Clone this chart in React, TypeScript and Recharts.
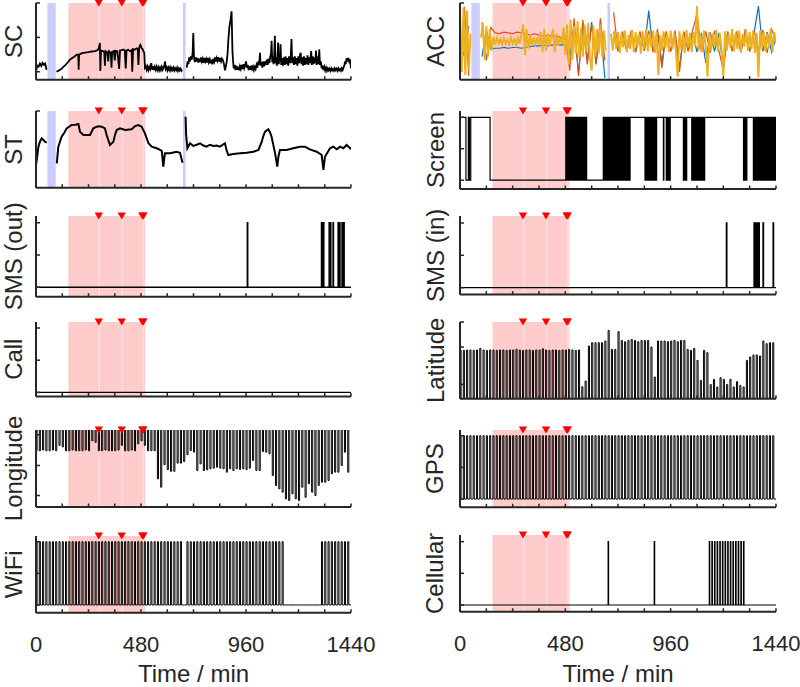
import React from 'react';
import { LineChart, Line, XAxis, YAxis, ReferenceArea, ReferenceLine, ReferenceDot } from 'recharts';

const FONT = '"Liberation Sans", Arial, Helvetica, sans-serif';
const INK = '#262626';

// ---------- shared time axis / annotations ----------
const xTicks = [0, 120, 240, 360, 480, 600, 720, 840, 960, 1080, 1200, 1320, 1440];
const xTickLabels = [0, 480, 960, 1440];
const sampleStep = 15; // minutes between phone samples
const pulseWidth = 5;
const stressPeriod = [148, 499];
const eventLines = [290, 395, 492];
const eventMarkers = [287, 392, 486, 491];
const wristOff = [[52, 90], [672, 684]];

// ---------- SC (skin conductance) ----------
const scTime = [0, 6, 12, 18, 24, 30, 36, 42, 48, 50, 94, 105, 115, 125, 135, 145, 155, 165, 175, 186, 193, 195, 197, 210, 225, 240, 255, 270, 282, 288, 292, 294, 297, 305, 312, 315, 318, 326, 330, 334, 342, 345, 348, 356, 360, 364, 372, 380, 384, 392, 399, 406, 410, 414, 422, 430, 437, 440, 444, 452, 460, 465, 468, 472, 477, 482, 487, 491, 495,
  498, 502, 506, 510, 514, 518, 522, 527, 531, 535, 539, 543, 547, 551, 555, 559, 563, 567, 571, 575, 579, 583, 587, 590, 593, 597, 601, 605, 609, 613, 617, 621, 625, 629, 633, 637, 641, 645, 649, 653, 657, 661, 665, 668, 672,
  689, 693, 697, 700, 704, 708, 712, 716, 719, 722, 726, 730, 734, 738, 742, 746, 750, 754, 758, 762, 766, 770, 774, 778, 782, 786, 790, 794, 798, 802, 806, 810, 814, 818, 822, 826, 830, 834, 838, 842, 846, 850, 855, 860, 864, 868, 872, 876, 879, 884, 889, 892, 894, 896, 898, 901, 904, 908, 912, 916, 920, 924, 928, 932, 936, 940, 944, 948, 952, 956, 960, 964, 968, 972, 976, 980, 984, 988, 992, 996, 1000, 1004, 1008, 1012, 1016, 1020, 1024, 1027, 1031, 1035, 1039, 1043, 1047, 1051, 1055, 1059, 1063, 1067, 1071, 1074, 1077, 1080, 1083, 1086, 1089, 1092, 1095, 1098, 1101, 1104, 1107, 1110, 1113, 1116, 1118, 1121, 1125, 1129, 1133, 1137, 1141, 1145, 1149, 1153, 1157, 1161, 1165, 1168, 1171, 1175, 1179, 1183, 1187, 1191, 1195, 1199, 1203, 1207, 1210, 1213, 1217, 1221, 1225, 1229, 1233, 1237, 1241, 1245, 1249, 1253, 1258, 1261, 1265, 1269, 1273, 1277, 1280, 1283, 1287, 1291, 1295, 1298, 1302, 1306, 1310, 1314, 1318, 1322, 1326, 1330, 1334, 1338, 1342, 1346, 1350, 1354, 1358, 1362, 1366, 1370, 1374, 1378, 1382, 1386, 1390, 1394, 1398, 1402, 1406, 1410, 1413, 1416, 1420, 1424, 1428, 1432, 1436, 1440];
const scValue: (number | null)[] = [0.01, 0.18, 0.15, 0.24, 0.17, 0.26, 0.2, 0.24, 0.06, null, 0.0, 0.04, 0.08, 0.14, 0.2, 0.27, 0.35, 0.4, 0.44, 0.5, 0.5, 0.06, 0.5, 0.54, 0.56, 0.57, 0.59, 0.6, 0.63, 0.7, 0.84, 0.02, 0.62, 0.6, 0.58, 0.18, 0.6, 0.57, 0.3, 0.6, 0.55, 0.12, 0.58, 0.6, 0.33, 0.61, 0.6, 0.08, 0.62, 0.63, 0.65, 0.62, 0.1, 0.62, 0.64, 0.6, 0.63, 0.0, 0.66, 0.64, 0.68, 0.66, 0.2, 0.72, 0.78, 0.7, 0.66, 0.6, 0.55,
  0.12, 0.16, 0.06, 0.15, 0.05, 0.14, 0.08, 0.25, 0.06, 0.16, 0.05, 0.14, 0.06, 0.15, 0.05, 0.13, 0.04, 0.12, 0.05, 0.14, 0.06, 0.12, 0.2, 0.3, 0.08, 0.13, 0.04, 0.12, 0.05, 0.13, 0.04, 0.11, 0.05, 0.12, 0.04, 0.1, 0.05, 0.12, 0.03, 0.1, 0.04, 0.09, 0.03, 0.06, null,
  0.12, 0.3, 0.22, 0.42, 0.3, 0.45, 0.35, 0.55, 1.13, 0.45, 0.28, 0.42, 0.3, 0.4, 0.27, 0.38, 0.28, 0.42, 0.3, 0.38, 0.26, 0.4, 0.3, 0.37, 0.27, 0.4, 0.28, 0.36, 0.25, 0.35, 0.22, 0.33, 0.28, 0.42, 0.3, 0.4, 0.32, 0.42, 0.3, 0.4, 0.3, 0.38, 0.33, 0.2, 0.04, 0.15, 0.3, 0.55, 0.9, 1.3, 1.5, 1.65, 1.76, 1.2, 0.6, 0.3, 0.1, 0.2, 0.05, 0.18, 0.06, 0.15, 0.04, 0.16, 0.08, 0.2, 0.08, 0.22, 0.1, 0.18, 0.3, 0.12, 0.2, 0.05, 0.16, 0.06, 0.18, 0.08, 0.15, 0.05, 0.14, 0.08, 0.2, 0.12, 0.3, 0.2, 0.55, 0.18, 0.28, 0.12, 0.3, 0.16, 0.3, 0.2, 0.35, 0.2, 0.38, 0.25, 0.45, 0.5, 0.9, 0.28, 0.45, 0.22, 0.5, 1.05, 0.25, 0.42, 0.18, 0.4, 0.85, 0.22, 0.45, 0.3, 0.8, 0.2, 0.4, 0.18, 0.42, 0.2, 0.45, 0.22, 0.4, 0.18, 0.45, 0.25, 0.5, 0.95, 0.25, 0.42, 0.2, 0.45, 0.22, 0.4, 0.18, 0.45, 0.25, 0.5, 0.55, 0.22, 0.42, 0.18, 0.45, 0.2, 0.4, 0.22, 0.48, 0.2, 0.42, 0.25, 0.6, 0.2, 0.45, 0.22, 0.42, 0.25, 0.62, 0.2, 0.45, 0.22, 0.65, 0.2, 0.3, 0.1, 0.18, 0.05, 0.14, 0.04, 0.12, 0.03, 0.1, 0.04, 0.09, 0.03, 0.1, 0.04, 0.08, 0.03, 0.1, 0.05, 0.09, 0.03, 0.1, 0.04, 0.08, 0.03, 0.1, 0.05, 0.12, 0.2, 0.3, 0.22, 0.4, 0.3, 0.4, 0.3, 0.36, 0.1];

// ---------- ST (skin temperature, relative units) ----------
const stTime = [0, 5, 11, 18, 26, 34, 40, 49, 50, 95, 102, 117, 130, 140, 163, 180, 194, 201, 215, 224, 247, 262, 277, 290, 300, 315, 323, 338, 354, 361, 369, 384, 407, 437, 453, 468, 483, 498, 514, 529, 552, 567, 575, 582, 587, 590, 613, 643, 658, 670, 672, 684, 686, 692, 704, 719, 735, 750, 765, 780, 795, 811, 826, 841, 864, 870, 879, 902, 933, 963, 994, 1017, 1032, 1040, 1047, 1062, 1070, 1077, 1093, 1103, 1108, 1115, 1146, 1176, 1207, 1230, 1252, 1283, 1306, 1314, 1321, 1344, 1359, 1375, 1390, 1405, 1420, 1436, 1440];
const stValue: (number | null)[] = [29.6, 40, 53.5, 60, 64.4, 62.2, 60, 58.7, null, 31.8, 53.5, 66.5, 72, 77.4, 81.7, 82, 83, 73, 69, 68.7, 68.7, 77.4, 79.5, 80, 79.5, 77.4, 68.7, 55.7, 60, 68.7, 75.2, 77.4, 75.2, 76.1, 80.4, 81.7, 79.5, 70.9, 57.9, 53.5, 51.4, 49.2, 48, 27.4, 40, 44.8, 44.8, 46.9, 45.6, 32.6, null, 92.6, 70, 51.4, 57.9, 54.4, 56, 57.9, 55, 53.5, 56, 54.4, 55, 53.5, 57.9, 50, 42.6, 43.9, 44.8, 45.6, 46.9, 49.2, 60, 68, 73, 76.1, 72, 66.5, 44.8, 27.4, 40, 49.2, 49.2, 51.4, 53.5, 53.5, 50, 46.9, 42.6, 23.1, 40.4, 51.4, 53.5, 50, 53.5, 51.4, 55.7, 51.4, 50];

// ---------- ACC (three axes, relative units) ----------
const accStepY = 8;
const accY: (number | null)[] = [88, 10, 94, 6, 90, 12, 60, null, null, null, null, null, 55, 74, 26, 70, 30, 66, 38, 56, 46, 54, 47, 53, 46, 54, 47, 52, 46, 55, 47, 53, 45, 54, 47, 60, 72, 32, 66, 40, 58, 44, 55, 47, 54, 45, 62, 36, 66, 38, 60, 44, 56, 66, 36, 60, 45, 55, 47, 68, 32, 72, 20, 78, 26, 70, 34, 76, 28, 68, 30, 72, 36, 74, 28, 12, 70, 30, 66, 34, 72, 30, 64, 38, null, null,
  60, 38, 64, 40, 62, 35, 60, 42, 64, 36, 58, 40, 65, 36, 62, 44, 60, 34, 63, 40, 66, 37, 60, 42, 64, 35, 62, 6, 58, 38, 63, 41, 60, 36, 64, 40, 61, 37, 4, 63, 39, 60, 35, 65, 42, 61, 36, 62, 44, 96, 38, 60, 36, 64, 41, 4, 62, 38, 60, 43, 65, 36, 61, 40, 5, 63, 38, 60, 42, 66, 37, 61, 40, 64, 36, 59, 43, 65, 38, 62, 40, 64, 35, 61, 3, 64, 40, 62, 37, 60, 42, 67, 36, 62, 48];
const accStepXZ = 20;
const accX: (number | null)[] = [50, 30, 70, null, null, 30, 65, 40, 41, 41, 42, 41, 42, 42, 41, 42, 43, 44, 44, 45, 44, 45, 46, 45, 46, 30, 70, 8, 68, 25, 75, 20, 70, 2, null, 62, 37, 61, 38, 62, 36, 61, 38, 90, 37, 62, 22, 61, 37, 62, 15, 61, 38, 62, 36, 61, 22, 62, 37, 61, 15, 62, 38, 61, 36, 62, 37, 61, 96, 37, 62, 36, 55];
const accZ: (number | null)[] = [10, 95, 5, null, null, 75, 25, 68, 61, 60, 62, 61, 60, 62, 61, 60, 58, 60, 58, 57, 58, 56, 57, 55, 56, 12, 80, 5, 78, 20, 72, 22, 80, 25, null, 88, 38, 63, 37, 64, 36, 63, 38, 64, 36, 66, 15, 63, 37, 64, 10, 63, 37, 64, 86, 36, 63, 35, 64, 38, 12, 63, 37, 63, 36, 66, 37, 64, 38, 65, 35, 66, 50];

// ---------- phone logs ----------
const screenStart = 1;
const screenToggles = [27, 38, 43, 49, 137,
  482, 484, 488, 490, 494, 496, 499, 502, 505, 508, 511, 514, 517, 522, 525, 528, 531, 534, 537, 540, 543, 546, 549, 553, 556, 559, 562, 565, 568, 571, 574, 577,
  653, 656, 659, 662, 665, 668, 671, 676, 679, 682, 685, 688, 691, 694, 697, 700, 703, 706, 709, 712, 715, 718, 721, 726, 729, 732, 735, 738, 741, 744, 747, 750, 753, 756, 759, 762, 765, 768, 771, 773, 775,
  843, 846, 849, 852, 855, 858, 861, 864, 868, 872, 875, 878, 881, 884, 887, 890, 893, 896,
  927, 929,
  940, 943, 946, 949, 952, 955, 957, 958,
  1018, 1021, 1024, 1027, 1030, 1033,
  1056, 1059, 1062, 1065, 1068, 1071, 1074, 1079, 1082, 1085, 1088, 1091, 1094, 1097, 1100, 1103, 1106, 1109, 1112, 1115,
  1292, 1295, 1298, 1301, 1304, 1307,
  1337, 1340, 1343, 1346, 1349, 1352, 1355, 1358, 1361, 1364, 1367, 1370, 1373, 1376, 1379, 1382, 1385, 1388, 1391, 1394, 1397, 1400, 1403, 1406, 1409, 1412, 1415, 1418, 1421, 1424, 1427, 1430, 1433, 1436, 1438, 1439];
const smsOut = [[966, 968], [1305, 1308], [1310, 1316], [1340, 1342], [1346, 1348], [1358, 1360], [1381, 1384], [1386, 1390], [1399, 1401], [1406, 1409]];
const smsIn = [[1214, 1216], [1340, 1343], [1345, 1348], [1350, 1353], [1355, 1358], [1360, 1364], [1381, 1383], [1427, 1429]];
const calls: number[][] = [];
const cellular = [[675, 677], [885, 887], [1136, 1138], [1148, 1150], [1160, 1162], [1172, 1174], [1184, 1186], [1196, 1198], [1208, 1210], [1220, 1222], [1232, 1234], [1244, 1246], [1256, 1258], [1268, 1270], [1280, 1282], [1292, 1294]];

const longitude: (number | null)[] = [73, 73, 74, 73, 73, 74, 73, 80, 78, 73, 73, 74, 73, 73, 73, 74, 73, 86, 84, 73, 73, 74, 73, 73, 73, 74, 80, 73, 73, 74, 73, 82, 86, 80, 73, 73, 73, 36.6, 25.7, 55, 48.5, 46.3, 46.3, 57, 57, 59, 68, 73.4, 71.2, 47.4, 56, 47.4, 48.3, 49.6, 50.4, 51.7, 50.4, 49.6, 45.2, 49.6, 47.4, 49.6, 48.7, 49.6, 48.7, 50.4, 60.4, 47.4, 47.4, 72, 71.2, 69.1, 40.9, 27.9, 23.6, 19.2, 10.6, 8.4, 17.1, 10.6, 8.4, 25.7, 12.7, 30.1, 19.2, 14.9, 27.9, 32.2, 32.2, 34.4, 43.1, 45.2, 45.2, 53.9, 71.2, 45.2];
const lonNoFix = 160;
const latitude: (number | null)[] = [63.5, 63, 63.5, 63.5, 63, 63.5, 65.6, 63.5, 63, 63.5, 63.5, 63, 63.5, 63.5, 63, 63.5, 63.5, 64.3, 63.5, 63, 63.5, 63.5, 63, 63.5, 63.5, 65, 63.5, 63, 63.5, 63.5, 63, 63.5, 63.5, 64.3, 63.5, 63, 63.5, 15.6, 23, 68.7, 73, 73, 73, 73, 75.2, 89, 64.3, 64.3, 87.4, 76, 74.3, 76, 77.3, 76, 74.3, 76, 76, 76, 67.4, 28.3, 75.2, 75.2, 75.2, 74.3, 75.2, 76, 74.3, 76, 76, 64.3, 63, 65.6, 49.9, 23.9, 63, 60, 18.6, 25.2, 15.3, 27.4, 25.2, 18.6, 25.2, 15.3, 22.2, 17.3, 15.3, 49.9, 54.4, 57, 57, 55.7, 75.2, 71.7, 73, 73];
const latNoFix = -60;
const wifi = [1, 1, 1, 1, 1, 1, 1, 1, 1, 1, 1, 1, 1, 1, 1, 1, 1, 1, 1, 1, 1, 1, 1, 1, 1, 1, 1, 1, 1, 1, 1, 1, 1, 1, 1, 1, 1, 1, 1, 1, 1, 1, 1, 1, 1, 0, 1, 1, 1, 1, 1, 1, 1, 1, 1, 1, 1, 1, 1, 1, 1, 1, 1, 1, 1, 1, 1, 1, 1, 1, 1, 1, 1, 1, 1, 1, 0, 0, 0, 0, 0, 0, 0, 0, 0, 0, 0, 1, 1, 1, 1, 1, 1, 1, 1, 1];
const gps = [1, 1, 1, 1, 1, 1, 1, 1, 1, 1, 1, 1, 1, 1, 1, 1, 1, 1, 1, 1, 1, 1, 1, 1, 1, 1, 1, 1, 1, 1, 1, 1, 1, 1, 1, 1, 1, 1, 1, 1, 1, 1, 1, 1, 1, 1, 1, 1, 1, 1, 1, 1, 1, 1, 1, 1, 1, 1, 1, 1, 1, 1, 1, 1, 1, 1, 1, 1, 1, 1, 1, 1, 1, 1, 1, 1, 1, 1, 1, 1, 1, 1, 1, 1, 1, 1, 1, 1, 1, 1, 1, 1, 1, 1, 1, 1];

// ---------- builders ----------
type Pt = { t: number; v: number | null };
const zip = (ts: number[], vs: (number | null)[]): Pt[] => ts.map((t, i) => ({ t, v: vs[i] }));
const regular = (step: number, vs: (number | null)[]): Pt[] => vs.map((v, i) => ({ t: i * step, v }));
const stems = (vals: (number | null)[], base: number): Pt[] => {
  const out: Pt[] = [{ t: 0, v: base }];
  vals.forEach((v, k) => {
    if (v == null) return;
    const t = k * sampleStep;
    out.push({ t, v: base }, { t, v }, { t: t + pulseWidth, v }, { t: t + pulseWidth, v: base });
  });
  out.push({ t: 1440, v: base });
  return out;
};
const pulses = (iv: number[][]): Pt[] => {
  const out: Pt[] = [{ t: 0, v: 0 }];
  iv.forEach(([a, b]) => out.push({ t: a, v: 0 }, { t: a, v: 1 }, { t: b, v: 1 }, { t: b, v: 0 }));
  out.push({ t: 1440, v: 0 });
  return out;
};
const steps = (start: number, toggles: number[]): Pt[] => {
  let s = start;
  const out: Pt[] = [{ t: 0, v: s }];
  toggles.forEach((T) => {
    out.push({ t: T, v: s });
    s = 1 - s;
    out.push({ t: T, v: s });
  });
  out.push({ t: 1440, v: s });
  return out;
};

type Series = { data: Pt[]; color: string; width: number };
type Cfg = {
  label: string; col: 0 | 1; top: number; bottom: number; domain: [number, number];
  ticks: number[]; showX?: boolean; gaps?: boolean; series: Series[];
};

const blk = (data: Pt[], width = 1): Series => ({ data, color: '#000000', width });

const panels: Cfg[] = [
  { label: 'SC', col: 0, top: 3.3, bottom: 80, domain: [-0.23, 2], ticks: [0, 1, 2], gaps: true, series: [blk(zip(scTime, scValue), 1.8)] },
  { label: 'ST', col: 0, top: 111, bottom: 187.7, domain: [0, 100], ticks: [100], gaps: true, series: [blk(zip(stTime, stValue), 2)] },
  { label: 'SMS (out)', col: 0, top: 216, bottom: 296.7, domain: [-0.146, 1.104], ticks: [0, 0.5, 1], series: [blk(pulses(smsOut), 1.4)] },
  { label: 'Call', col: 0, top: 322.3, bottom: 396.7, domain: [-0.062, 1.093], ticks: [0, 0.5, 1], series: [blk(pulses(calls), 1.4)] },
  { label: 'Longitude', col: 0, top: 429.5, bottom: 506.5, domain: [0, 100], ticks: [14.9, 53.9, 93.8], series: [blk(stems(longitude, lonNoFix), 1)] },
  { label: 'WiFi', col: 0, top: 536, bottom: 612.7, domain: [-0.122, 1.09], ticks: [0, 0.5, 1], showX: true, series: [blk(stems(wifi, 0), 1)] },
  {
    label: 'ACC', col: 1, top: 3.3, bottom: 80, domain: [0, 100], ticks: [100], gaps: true,
    series: [
      { data: regular(accStepXZ, accX), color: '#0072BD', width: 1.2 },
      { data: regular(accStepXZ, accZ), color: '#D95319', width: 1.2 },
      { data: regular(accStepY, accY), color: '#EDB120', width: 2 },
    ],
  },
  { label: 'Screen', col: 1, top: 111, bottom: 189, domain: [-0.14, 1.1], ticks: [0, 0.5, 1], series: [blk(steps(screenStart, screenToggles), 1.2)] },
  { label: 'SMS (in)', col: 1, top: 215.7, bottom: 294.3, domain: [-0.108, 1.108], ticks: [0, 0.5, 1], series: [blk(pulses(smsIn), 1.4)] },
  { label: 'Latitude', col: 1, top: 322.3, bottom: 399, domain: [0, 100], ticks: [18.6, 67.4, 100], series: [blk(stems(latitude, latNoFix), 1)] },
  { label: 'GPS', col: 1, top: 430, bottom: 507.3, domain: [-0.13, 1.09], ticks: [0, 0.5, 1], series: [blk(stems(gps, 0), 1)] },
  { label: 'Cellular', col: 1, top: 535, bottom: 611.7, domain: [-0.106, 1.105], ticks: [0, 0.5, 1], showX: true, series: [blk(pulses(cellular), 1.2)] },
];

const Tri = (p: any) => {
  const { cx, cy } = p;
  return <path d={`M${cx - 4.2},${cy - 3.4}L${cx + 4.2},${cy - 3.4}L${cx},${cy + 3.4}Z`} fill="#ff0000" />;
};

function Panel({ cfg }: { cfg: Cfg }) {
  const colX = cfg.col * 400;
  const plotL = cfg.col ? 460 : 36;
  const plotR = cfg.col ? 776 : 351;
  const MT = 40;
  const MB = cfg.showX ? 0 : 40;
  const plotH = cfg.bottom - cfg.top;
  const XH = cfg.showX ? 687 - cfg.bottom : 6;
  const H = MT + plotH + XH + MB;
  const yAxisW = plotL - colX;
  const right = colX + 400 - plotR;
  const labelX = (cfg.col ? 443.5 : 21.8) - colX;
  const labelY = MT + plotH / 2;
  const xCenter = (plotL + plotR) / 2 - colX;
  const titleY = MT + (681.5 - cfg.top);

  const XTick = (p: any) => {
    const { x, y, payload } = p;
    return (
      <g>
        <line x1={x} x2={x} y1={y} y2={y - 3.5} stroke={INK} strokeWidth={1.5} />
        {cfg.showX && xTickLabels.includes(payload.value) && (
          <text x={x} y={y + 39} textAnchor="middle" fontSize={22} fill={INK} fontFamily={FONT}>{payload.value}</text>
        )}
      </g>
    );
  };
  const YTick = (p: any) => {
    const { x, y } = p;
    return <line x1={x} x2={x + 4} y1={y} y2={y} stroke={INK} strokeWidth={1.5} />;
  };
  const yLabel = () => (
    <text x={labelX} y={labelY} transform={`rotate(-90 ${labelX} ${labelY})`} textAnchor="middle" fontSize={24} fill={INK} fontFamily={FONT}>{cfg.label}</text>
  );
  const xLabel = () => (
    <text x={xCenter} y={titleY} textAnchor="middle" fontSize={24} fill={INK} fontFamily={FONT}>Time / min</text>
  );
  const yTop = cfg.domain[1];

  return (
    <div style={{ position: 'absolute', left: colX, top: cfg.top - MT }}>
      <LineChart width={400} height={H} margin={{ top: MT, right, bottom: MB, left: 0 }}>
        <XAxis type="number" dataKey="t" domain={[0, 1440]} ticks={xTicks} interval={0} allowDataOverflow
          tickSize={0} tickMargin={0} tickLine={false} axisLine={{ stroke: INK, strokeWidth: 2 }} height={XH}
          tick={XTick} label={cfg.showX ? xLabel : undefined} />
        <YAxis type="number" domain={cfg.domain} ticks={cfg.ticks} interval={0} allowDataOverflow width={yAxisW}
          tickSize={0} tickMargin={0} tickLine={false} axisLine={{ stroke: INK, strokeWidth: 2 }}
          tick={YTick} label={yLabel} />
        {cfg.gaps && wristOff.map(([a, b], i) => (
          <ReferenceArea key={'g' + i} x1={a} x2={b} fill="#ccccff" fillOpacity={1} stroke="none" ifOverflow="hidden" />
        ))}
        <ReferenceArea x1={stressPeriod[0]} x2={stressPeriod[1]} fill="#ffcccc" fillOpacity={1} stroke="none" ifOverflow="hidden" />
        {eventLines.map((t) => (
          <ReferenceLine key={'e' + t} x={t} stroke="#ffe6e6" strokeWidth={1} />
        ))}
        {cfg.series.map((s, i) => (
          <Line key={i} data={s.data} dataKey="v" type="linear" stroke={s.color} strokeWidth={s.width}
            dot={false} activeDot={false} isAnimationActive={false} connectNulls={false} />
        ))}
        {eventMarkers.map((t) => (
          <ReferenceDot key={'m' + t} x={t} y={yTop} r={4} ifOverflow="visible" shape={Tri} />
        ))}
      </LineChart>
    </div>
  );
}

export default function App() {
  return (
    <div style={{ position: 'absolute', left: 0, top: 0, width: 800, height: 687, overflow: 'hidden', background: '#fff' }}>
      {panels.map((c) => <Panel key={c.label} cfg={c} />)}
    </div>
  );
}
